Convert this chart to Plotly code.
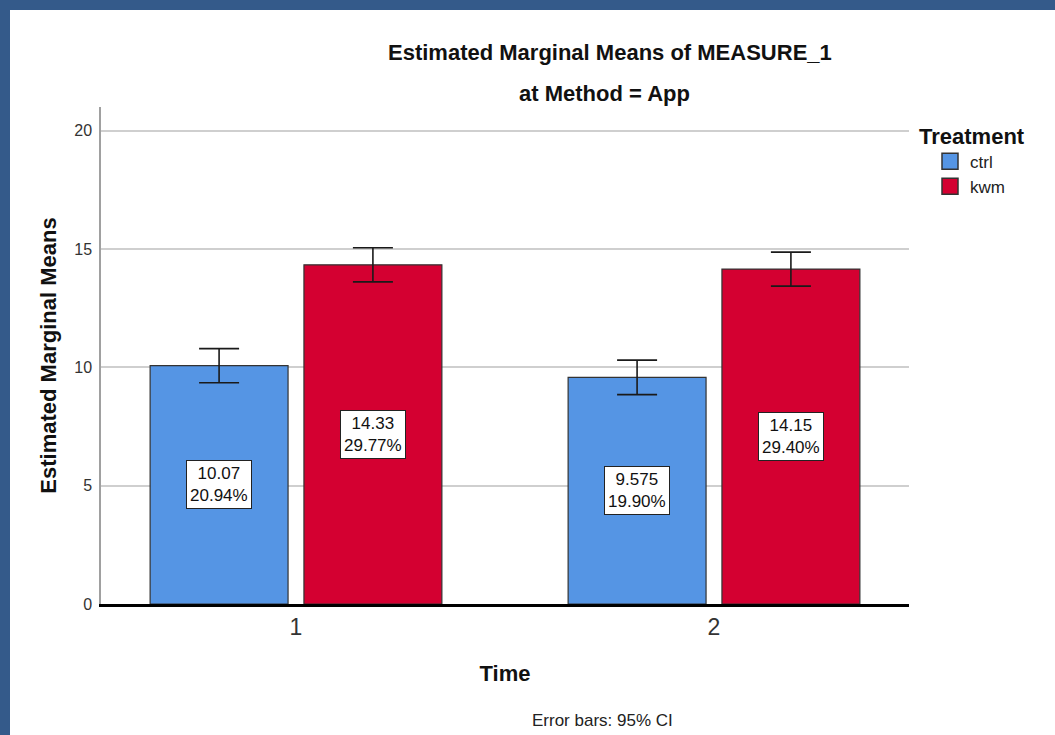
import plotly.graph_objects as go

# ---- data ----
TIME = [1, 2]
CTRL_MEANS = [10.07, 9.575]
KWM_MEANS = [14.33, 14.15]
CTRL_CI = [0.72, 0.73]
KWM_CI = [0.72, 0.72]
CTRL_LABELS = ["10.07<br>20.94%", "9.575<br>19.90%"]
KWM_LABELS = ["14.33<br>29.77%", "14.15<br>29.40%"]
SERIES_NAMES = ["ctrl", "kwm"]
Y_TICKS = [0, 5, 10, 15, 20]

# ---- style ----
FONT = "Liberation Sans, Arial, sans-serif"
C_CTRL = "#5595E4"
C_KWM = "#D40031"
BAR_W = 0.33
HALF_GAP = 0.019

# plot-area pixel geometry (for paper-relative text placement)
L, R, T, B = 101, 909, 107, 604
W, H = 1055, 735
PW, PH = R - L, B - T


def px(x):
    return (x - L) / PW


def py(y):
    return (B - y) / PH


fig = go.Figure()

series = [
    (SERIES_NAMES[0], CTRL_MEANS, CTRL_CI, CTRL_LABELS, C_CTRL, -(BAR_W + HALF_GAP)),
    (SERIES_NAMES[1], KWM_MEANS, KWM_CI, KWM_LABELS, C_KWM, HALF_GAP),
]

for name, vals, ci, labels, color, off in series:
    fig.add_trace(go.Bar(
        x=TIME, y=vals, name=name, legendgroup=name, showlegend=False,
        width=BAR_W, offset=off,
        marker=dict(color=color, line=dict(color="#333333", width=1.2)),
        error_y=dict(type="data", array=ci, visible=True,
                     color="#1a1a1a", thickness=1.6, width=20),
    ))
    # legend entry (larger square swatch)
    fig.add_trace(go.Scatter(
        x=[None], y=[None], name=name, legendgroup=name, mode="markers",
        marker=dict(symbol="square", size=18, color=color,
                    line=dict(color="#333333", width=1.5)),
        hoverinfo="skip",
    ))
    for t, v, lab in zip(TIME, vals, labels):
        fig.add_annotation(
            x=t + off + BAR_W / 2, y=v / 2, xref="x", yref="y",
            text=lab, showarrow=False,
            font=dict(family=FONT, size=17, color="#111111"),
            bgcolor="white", bordercolor="#222222", borderwidth=1, borderpad=3,
        )

# titles and notes
fig.add_annotation(x=px(610), y=py(53), xref="paper", yref="paper",
                   xanchor="center", yanchor="middle",
                   text="<b>Estimated Marginal Means of MEASURE_1</b>",
                   showarrow=False, font=dict(family=FONT, size=22, color="#111111"))
fig.add_annotation(x=px(604), y=py(94), xref="paper", yref="paper",
                   xanchor="center", yanchor="middle",
                   text="<b>at Method = App</b>",
                   showarrow=False, font=dict(family=FONT, size=22, color="#111111"))
fig.add_annotation(x=px(602), y=py(721), xref="paper", yref="paper",
                   xanchor="center", yanchor="middle",
                   text="Error bars: 95% CI",
                   showarrow=False, font=dict(family=FONT, size=17, color="#222222"))

# blue window frame (left and top)
FRAME = "#345A8A"
fig.add_shape(type="rect", xref="paper", yref="paper",
              x0=px(-5), x1=px(10), y0=py(740), y1=py(-5),
              fillcolor=FRAME, line=dict(width=0), layer="above")
fig.add_shape(type="rect", xref="paper", yref="paper",
              x0=px(-5), x1=px(1060), y0=py(10), y1=py(-5),
              fillcolor=FRAME, line=dict(width=0), layer="above")

fig.update_layout(
    width=W, height=H,
    margin=dict(l=L, r=W - R, t=T, b=H - B, autoexpand=False),
    paper_bgcolor="white", plot_bgcolor="white",
    barmode="overlay",
    font=dict(family=FONT, color="#222222"),
    showlegend=True,
    legend=dict(
        title=dict(text="<b>Treatment</b>", font=dict(family=FONT, size=22, color="#111111")),
        font=dict(family=FONT, size=17, color="#222222"),
        x=px(917), y=py(115), xanchor="left", yanchor="top",
        indentation=13, itemwidth=30,
        bgcolor="rgba(0,0,0,0)", tracegroupgap=0,
    ),
    xaxis=dict(
        range=[0.5335, 2.4665], tickvals=TIME, ticktext=[str(t) for t in TIME],
        showgrid=False, zeroline=False,
        showline=True, linecolor="black", linewidth=3,
        ticks="", ticklabelstandoff=0,
        tickfont=dict(family=FONT, size=23, color="#333333"),
        title=dict(text="<b>Time</b>", font=dict(family=FONT, size=22, color="#111111"), standoff=28),
    ),
    yaxis=dict(
        range=[0, 21], tickvals=Y_TICKS,
        showgrid=True, gridcolor="#CFCFCF", gridwidth=1.5,
        zeroline=False,
        showline=True, linecolor="#A0A0A0", linewidth=1.5,
        ticks="", ticklabelstandoff=4,
        tickfont=dict(family=FONT, size=16, color="#333333"),
        title=dict(text="<b>Estimated Marginal Means</b>", font=dict(family=FONT, size=22, color="#111111"), standoff=12),
    ),
)

fig.write_html("out.html", config={"displayModeBar": False},
               post_script="document.body.style.margin='0';")
